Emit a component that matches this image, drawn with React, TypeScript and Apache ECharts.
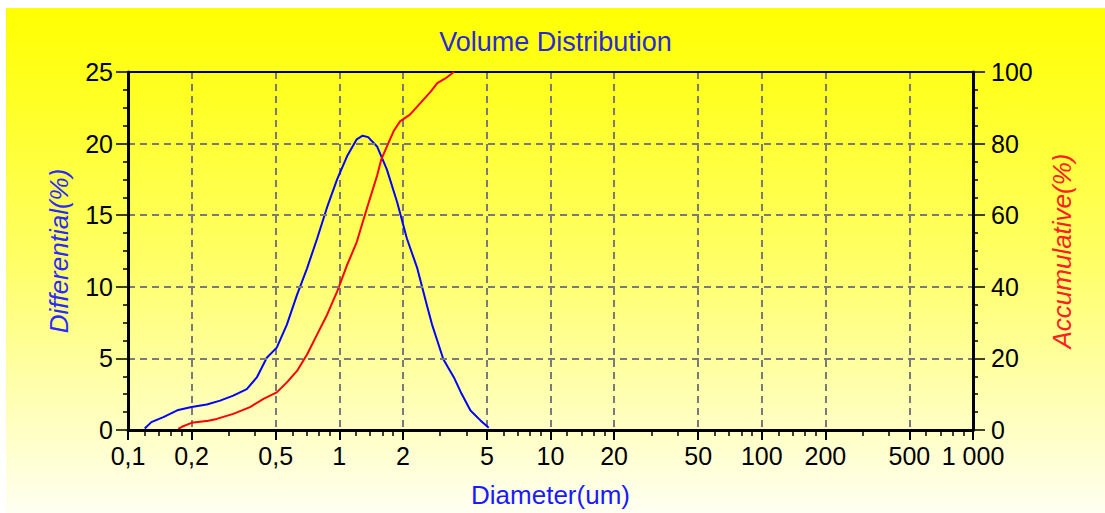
import React, { useEffect, useRef } from "react";
import * as echarts from "echarts";

// Differential curve (blue), diameter in um -> %
const diffDiameters = [0.12, 0.129, 0.147, 0.173, 0.2, 0.236, 0.273, 0.315, 0.365, 0.407, 0.454, 0.506, 0.565, 0.631, 0.704, 0.786, 0.876, 0.978, 1.09, 1.21, 1.29, 1.37, 1.51, 1.68, 1.88, 2.09, 2.34, 2.61, 2.75, 2.91, 3.11, 3.49, 3.8, 4.18, 4.66, 5.1];
const diffValues = [0.1, 0.55, 0.9, 1.4, 1.6, 1.78, 2.05, 2.4, 2.86, 3.67, 5.05, 5.75, 7.36, 9.44, 11.29, 13.37, 15.56, 17.52, 19.13, 20.3, 20.55, 20.45, 19.8, 18.2, 15.9, 13.37, 11.3, 8.6, 7.36, 6.25, 4.94, 3.67, 2.51, 1.36, 0.67, 0.15];

// Accumulative curve (red), diameter in um -> %
const accDiameters = [0.173, 0.18, 0.2, 0.24, 0.263, 0.315, 0.378, 0.438, 0.506, 0.565, 0.631, 0.704, 0.786, 0.876, 0.978, 1.09, 1.21, 1.35, 1.51, 1.58, 1.71, 1.81, 1.94, 2.16, 2.42, 2.71, 2.91, 3.18, 3.49];
const accValues = [0.3, 0.9, 2.0, 2.6, 3.1, 4.5, 6.4, 8.7, 10.5, 13.3, 16.5, 21.1, 26.7, 32.2, 38.7, 46.1, 52.5, 61.8, 71.0, 75.5, 80.2, 83.5, 86.2, 88.1, 91.3, 94.5, 96.9, 98.2, 100];

// X axis ticks (diameters)
const majorTicks = [0.1, 0.2, 0.5, 1, 2, 5, 10, 20, 50, 100, 200, 500, 1000];
const majorLabels = ["0,1", "0,2", "0,5", "1", "2", "5", "10", "20", "50", "100", "200", "500", "1 000"];
const minorMantissas = [1.2, 1.4, 1.6, 1.8, 3, 4, 6, 7, 8, 9];
const decades = [0.1, 1, 10, 100];

const title = "Volume Distribution";
const xName = "Diameter(um)";
const leftName = "Differential(%)";
const rightName = "Accumulative(%)";

const FONT = "Arial, 'Liberation Sans', sans-serif";

export default function App() {
  const ref = useRef<HTMLDivElement>(null);

  useEffect(() => {
    if (!ref.current) return;
    const chart = echarts.init(ref.current, null, { renderer: "svg" });

    const majorLogs = majorTicks.map((d) => Math.log10(d));
    const minorLogs: number[] = [];
    decades.forEach((dec) => minorMantissas.forEach((m) => minorLogs.push(Math.log10(m * dec))));

    const labelFor = (v: number) => {
      let best = 0;
      let bd = Infinity;
      majorLogs.forEach((l, i) => {
        const dd = Math.abs(l - v);
        if (dd < bd) { bd = dd; best = i; }
      });
      return majorLabels[best];
    };

    const grid = { color: "#7a7a7a", width: 2, type: [7, 5] as any };
    const tickText = { fontSize: 25, color: "#000", fontFamily: FONT };

    chart.setOption({
      animation: false,
      title: {
        text: title,
        left: "center",
        top: 15,
        textStyle: { fontSize: 27, fontWeight: "normal", color: "#2a2ad2", fontFamily: FONT },
      },
      grid: {
        left: 122,
        right: 132,
        top: 64,
        bottom: 80,
        show: false,
      },
      xAxis: [
        {
          type: "value",
          min: -1,
          max: 3,
          position: "bottom",
          name: xName,
          nameLocation: "middle",
          nameGap: 52,
          nameTextStyle: { fontSize: 26, color: "#1a1aff", fontFamily: FONT },
          axisLine: { show: true, onZero: false, lineStyle: { color: "#000", width: 3 } },
          axisTick: { show: true, customValues: majorLogs, length: 10, lineStyle: { color: "#000", width: 2 } },
          axisLabel: { show: true, customValues: majorLogs, formatter: (v: number) => labelFor(v), margin: 13, ...tickText },
          splitLine: { show: false },
          z: 5,
        },
        {
          type: "value",
          min: -1,
          max: 3,
          position: "bottom",
          axisLine: { show: false, onZero: false },
          axisTick: { show: true, customValues: minorLogs, length: 6, lineStyle: { color: "#000", width: 1.5 } },
          axisLabel: { show: false },
          splitLine: { show: false },
        },
        {
          type: "value",
          min: -1,
          max: 3,
          position: "top",
          axisLine: { show: true, onZero: false, lineStyle: { color: "#000", width: 2 } },
          axisTick: { show: false, customValues: majorLogs },
          axisLabel: { show: false },
          splitLine: { show: true, showMinLine: false, showMaxLine: false, lineStyle: grid },
          z: 2,
        },
      ],
      yAxis: [
        {
          type: "value",
          min: 0,
          max: 25,
          interval: 5,
          position: "left",
          name: leftName,
          nameLocation: "middle",
          nameGap: 56,
          nameTextStyle: { fontSize: 26, color: "#2a2aff", fontStyle: "italic", fontFamily: FONT },
          axisLine: { show: true, onZero: false, lineStyle: { color: "#000", width: 3 } },
          axisTick: { show: true, length: 12, lineStyle: { color: "#000", width: 1.5 } },
          minorTick: { show: true, splitNumber: 4, length: 5, lineStyle: { color: "#000", width: 1.5 } },
          axisLabel: { margin: 15, ...tickText },
          splitLine: { show: true, showMinLine: false, showMaxLine: false, lineStyle: grid },
          z: 5,
        },
        {
          type: "value",
          min: 0,
          max: 100,
          interval: 20,
          position: "right",
          name: rightName,
          nameLocation: "middle",
          nameGap: 76,
          nameTextStyle: { fontSize: 26, color: "#ff2020", fontStyle: "italic", fontFamily: FONT },
          axisLine: { show: true, onZero: false, lineStyle: { color: "#000", width: 3 } },
          axisTick: { show: true, length: 12, lineStyle: { color: "#000", width: 1.5 } },
          minorTick: { show: true, splitNumber: 4, length: 5, lineStyle: { color: "#000", width: 1.5 } },
          axisLabel: { margin: 18, ...tickText },
          splitLine: { show: false },
          z: 5,
        },
      ],
      series: [
        {
          name: leftName,
          type: "line",
          xAxisIndex: 0,
          yAxisIndex: 0,
          showSymbol: false,
          lineStyle: { color: "#0000ff", width: 2 },
          data: diffDiameters.map((d, i) => [Math.log10(d), diffValues[i]]),
          z: 3,
        },
        {
          name: rightName,
          type: "line",
          xAxisIndex: 0,
          yAxisIndex: 1,
          showSymbol: false,
          lineStyle: { color: "#ff0000", width: 2 },
          data: accDiameters.map((d, i) => [Math.log10(d), accValues[i]]),
          z: 3,
        },
      ],
    });

    return () => chart.dispose();
  }, []);

  return (
    <div
      ref={ref}
      style={{
        position: "absolute",
        left: 6,
        top: 8,
        width: 1099,
        height: 505,
        background: "linear-gradient(to bottom, #ffff00 0%, #ffff66 50%, #fffff2 100%)",
      }}
    />
  );
}
